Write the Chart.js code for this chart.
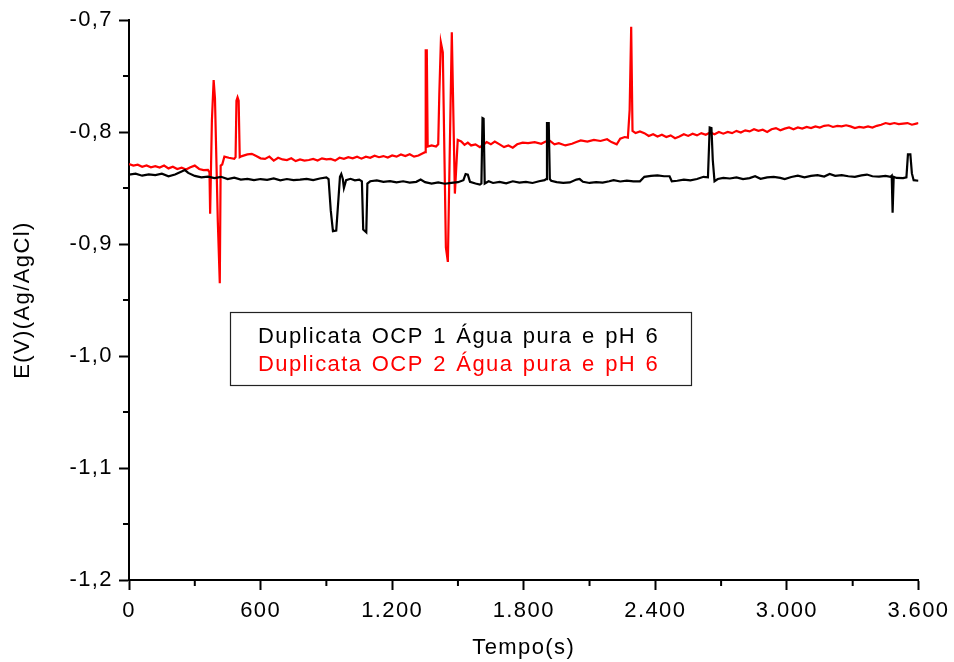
<!DOCTYPE html>
<html>
<head>
<meta charset="utf-8">
<script src="https://cdn.jsdelivr.net/npm/chart.js@4/dist/chart.umd.min.js"></script>
<style>
  html, body { margin: 0; padding: 0; background: #fff; }
  #wrap { width: 954px; height: 662px; }
</style>
</head>
<body>
<div id="wrap"><canvas id="chart"></canvas></div>
<script>
// OCP duplicatas – potencial vs tempo
const seriesNames = ["Duplicata OCP 1 Água pura e pH 6", "Duplicata OCP 2 Água pura e pH 6"];

const timeOcp1 = [
  0, 30, 60, 90, 120, 150, 180, 210, 240, 255, 270, 300, 330, 360, 390, 420, 450, 480, 510, 540,
  570, 600, 630, 660, 690, 720, 750, 780, 810, 840, 870, 900, 910, 920, 930, 945, 955, 962, 968, 975,
  980, 990, 1010, 1030, 1050, 1062, 1068, 1082, 1087, 1100, 1130, 1160, 1190, 1220, 1250, 1280, 1310, 1330, 1350, 1380,
  1410, 1440, 1470, 1500, 1525, 1535, 1545, 1555, 1580, 1600, 1607, 1612, 1617, 1622, 1640, 1660, 1690, 1720, 1750, 1780,
  1810, 1840, 1870, 1895, 1902, 1906, 1914, 1919, 1925, 1950, 1980, 2010, 2040, 2055, 2070, 2100, 2130, 2160, 2190, 2210,
  2240, 2270, 2300, 2330, 2350, 2380, 2410, 2440, 2465, 2475, 2500, 2530, 2560, 2590, 2620, 2640, 2648, 2656, 2662, 2670,
  2685, 2710, 2740, 2770, 2800, 2830, 2855, 2880, 2910, 2940, 2970, 2990, 3020, 3050, 3080, 3110, 3140, 3170, 3195, 3220,
  3250, 3280, 3310, 3340, 3365, 3390, 3420, 3450, 3472, 3478, 3482, 3487, 3500, 3530, 3545, 3552, 3563, 3570, 3578, 3600
];
const ocp1 = [
  -0.8380, -0.8372, -0.8390, -0.8378, -0.8385, -0.8372, -0.8395, -0.8380, -0.8352, -0.8340, -0.8365, -0.8392, -0.8405, -0.8398, -0.8412, -0.8400, -0.8420, -0.8408, -0.8425, -0.8418,
  -0.8430, -0.8420, -0.8428, -0.8415, -0.8432, -0.8420, -0.8430, -0.8425, -0.8418, -0.8430, -0.8415, -0.8405, -0.8420, -0.8700, -0.8885, -0.8880, -0.8600, -0.8400, -0.8375, -0.8420,
  -0.8500, -0.8430, -0.8418, -0.8432, -0.8425, -0.8440, -0.8870, -0.8895, -0.8460, -0.8440, -0.8432, -0.8445, -0.8438, -0.8450, -0.8440, -0.8452, -0.8445, -0.8425, -0.8448, -0.8460,
  -0.8450, -0.8462, -0.8455, -0.8448, -0.8430, -0.8375, -0.8380, -0.8445, -0.8460, -0.8470, -0.8460, -0.7875, -0.7880, -0.8460, -0.8440, -0.8455, -0.8445, -0.8458, -0.8440, -0.8452,
  -0.8445, -0.8455, -0.8440, -0.8430, -0.8420, -0.7920, -0.7920, -0.8420, -0.8435, -0.8448, -0.8455, -0.8450, -0.8425, -0.8420, -0.8445, -0.8455, -0.8448, -0.8452, -0.8440, -0.8430,
  -0.8442, -0.8435, -0.8440, -0.8440, -0.8400, -0.8392, -0.8388, -0.8395, -0.8395, -0.8440, -0.8435, -0.8425, -0.8432, -0.8420, -0.8400, -0.8405, -0.7960, -0.7965, -0.8250, -0.8440,
  -0.8420, -0.8410, -0.8415, -0.8405, -0.8420, -0.8412, -0.8395, -0.8418, -0.8405, -0.8400, -0.8410, -0.8420, -0.8402, -0.8390, -0.8405, -0.8392, -0.8385, -0.8398, -0.8375, -0.8392,
  -0.8385, -0.8395, -0.8400, -0.8388, -0.8380, -0.8395, -0.8398, -0.8392, -0.8400, -0.8390, -0.8720, -0.8400, -0.8410, -0.8412, -0.8405, -0.8200, -0.8200, -0.8370, -0.8430, -0.8435
];

const timeOcp2 = [
  0, 20, 40, 60, 80, 100, 120, 140, 160, 180, 200, 220, 240, 260, 280, 300, 320, 340, 360, 367,
  370, 378, 386, 392, 405, 414, 418, 425, 435, 455, 480, 486, 490, 495, 500, 505, 515, 540, 560, 580,
  600, 620, 640, 660, 680, 700, 720, 740, 760, 780, 800, 820, 840, 860, 880, 900, 920, 940, 960, 980,
  1000, 1020, 1040, 1060, 1080, 1100, 1120, 1140, 1160, 1180, 1200, 1220, 1240, 1260, 1280, 1300, 1320, 1340, 1350, 1353,
  1358, 1362, 1380, 1400, 1410, 1415, 1422, 1431, 1445, 1454, 1472, 1486, 1499, 1515, 1530, 1545, 1560, 1580, 1600, 1615,
  1631, 1650, 1668, 1690, 1710, 1730, 1750, 1770, 1795, 1820, 1850, 1880, 1900, 1920, 1940, 1960, 1990, 2020, 2040, 2060,
  2090, 2120, 2150, 2180, 2200, 2224, 2240, 2260, 2275, 2283, 2290, 2296, 2310, 2330, 2350, 2370, 2390, 2410, 2430, 2450,
  2470, 2490, 2510, 2530, 2550, 2570, 2590, 2610, 2630, 2650, 2670, 2690, 2710, 2730, 2750, 2770, 2790, 2810, 2830, 2850,
  2870, 2890, 2910, 2930, 2950, 2970, 2990, 3010, 3030, 3050, 3070, 3090, 3110, 3130, 3150, 3170, 3190, 3210, 3230, 3250,
  3270, 3290, 3310, 3330, 3350, 3370, 3390, 3410, 3430, 3450, 3470, 3490, 3510, 3530, 3550, 3570, 3590, 3600
];
const ocp2 = [
  -0.8286, -0.8300, -0.8292, -0.8310, -0.8298, -0.8315, -0.8305, -0.8318, -0.8300, -0.8325, -0.8310, -0.8330, -0.8318, -0.8335, -0.8315, -0.8300, -0.8330, -0.8340, -0.8338, -0.8360,
  -0.8730, -0.7900, -0.7536, -0.7700, -0.8800, -0.9350, -0.8300, -0.8290, -0.8220, -0.8230, -0.8240, -0.8225, -0.7720, -0.7690, -0.7720, -0.8225, -0.8215, -0.8200, -0.8195, -0.8215,
  -0.8235, -0.8240, -0.8220, -0.8255, -0.8230, -0.8245, -0.8250, -0.8235, -0.8260, -0.8245, -0.8255, -0.8250, -0.8240, -0.8255, -0.8235, -0.8245, -0.8240, -0.8255, -0.8230, -0.8240,
  -0.8225, -0.8235, -0.8220, -0.8238, -0.8220, -0.8230, -0.8212, -0.8225, -0.8215, -0.8228, -0.8210, -0.8220, -0.8200, -0.8215, -0.8198, -0.8220, -0.8210, -0.8190, -0.8180, -0.7270,
  -0.7270, -0.8130, -0.8120, -0.8130, -0.8110, -0.7660, -0.7200, -0.7290, -0.9030, -0.9160, -0.7110, -0.8550, -0.8070, -0.8085, -0.8115, -0.8095, -0.8120, -0.8110, -0.8135, -0.8115,
  -0.8090, -0.8110, -0.8085, -0.8110, -0.8135, -0.8120, -0.8140, -0.8110, -0.8095, -0.8100, -0.8090, -0.8105, -0.8085, -0.8080, -0.8110, -0.8100, -0.8120, -0.8105, -0.8090, -0.8075,
  -0.8085, -0.8070, -0.8080, -0.8065, -0.8090, -0.8110, -0.8060, -0.8045, -0.8050, -0.7800, -0.7060, -0.7990, -0.8010, -0.7995, -0.8010, -0.8035, -0.8020, -0.8040, -0.8025, -0.8045,
  -0.8030, -0.8055, -0.8040, -0.8020, -0.8035, -0.8015, -0.8030, -0.8010, -0.8025, -0.8005, -0.8020, -0.8000, -0.8015, -0.8000, -0.8010, -0.7990, -0.8005, -0.7985, -0.7995, -0.7975,
  -0.7990, -0.7980, -0.8000, -0.7975, -0.7965, -0.7985, -0.7970, -0.7960, -0.7975, -0.7960, -0.7970, -0.7955, -0.7965, -0.7950, -0.7960, -0.7945, -0.7940, -0.7955, -0.7945, -0.7950,
  -0.7940, -0.7950, -0.7965, -0.7955, -0.7960, -0.7950, -0.7960, -0.7945, -0.7935, -0.7920, -0.7930, -0.7920, -0.7930, -0.7925, -0.7920, -0.7935, -0.7925, -0.7920
];

const xMinorTicks = [300, 900, 1500, 2100, 2700, 3300];
const yMinorTicks = [-0.75, -0.85, -0.95, -1.05, -1.15];

const FONT = '"Liberation Sans", Arial, sans-serif';
const toPts = (ts, vs) => ts.map((t, i) => ({ x: t, y: vs[i] }));
const fmtX = (v) => String(v).replace(/\B(?=(\d{3})+(?!\d))/g, ".");
const fmtY = (v) => Number(v).toFixed(1).replace(".", ",");

// etwas Sperrung wie im Origin-Export
const spacing = {
  id: "spacing",
  beforeDraw(chart) {
    chart.ctx.letterSpacing = "1.4px";
    chart.ctx.wordSpacing = "2px";
  }
};

const minorTicks = {
  id: "minorTicks",
  afterDraw(chart) {
    const { ctx, scales: { x, y } } = chart;
    ctx.save();
    ctx.strokeStyle = "#000";
    ctx.lineWidth = 2;
    ctx.beginPath();
    xMinorTicks.forEach(t => {
      const px = x.getPixelForValue(t);
      ctx.moveTo(px, y.bottom); ctx.lineTo(px, y.bottom + 6);
    });
    yMinorTicks.forEach(v => {
      const py = y.getPixelForValue(v);
      ctx.moveTo(x.left, py); ctx.lineTo(x.left - 6, py);
    });
    ctx.stroke();
    ctx.restore();
  }
};

const legendBox = {
  id: "legendBox",
  afterDraw(chart) {
    const ctx = chart.ctx;
    ctx.save();
    ctx.strokeStyle = "#222";
    ctx.lineWidth = 1.2;
    ctx.strokeRect(230.5, 312.5, 461, 73);
    ctx.font = "22px " + FONT;
    ctx.textAlign = "left";
    ctx.textBaseline = "alphabetic";
    chart.data.datasets.forEach((ds, i) => {
      ctx.fillStyle = ds.borderColor;
      ctx.fillText(ds.label, 258, 343 + i * 28);
    });
    ctx.restore();
  }
};

new Chart(document.getElementById("chart"), {
  type: "line",
  data: {
    datasets: [
      { label: seriesNames[0], data: toPts(timeOcp1, ocp1), borderColor: "#000000", borderWidth: 2.2, pointRadius: 0, tension: 0, fill: false },
      { label: seriesNames[1], data: toPts(timeOcp2, ocp2), borderColor: "#ff0000", borderWidth: 2.2, pointRadius: 0, tension: 0, fill: false }
    ]
  },
  options: {
    responsive: true,
    maintainAspectRatio: false,
    animation: false,
    layout: { padding: { top: 20, right: 34, bottom: 0, left: 0 } },
    plugins: { legend: { display: false }, tooltip: { enabled: false } },
    scales: {
      x: {
        type: "linear",
        min: 0, max: 3600,
        afterFit: (s) => { s.height = 82; },
        border: { display: true, color: "#000", width: 2 },
        grid: { drawOnChartArea: false, color: "#000", tickLength: 10, tickWidth: 2 },
        ticks: { stepSize: 600, color: "#000", padding: 8, maxRotation: 0, font: { family: FONT, size: 22 }, callback: fmtX },
        title: { display: true, text: "Tempo(s)", color: "#000", font: { family: FONT, size: 22 }, padding: { top: 0, bottom: 1 } }
      },
      y: {
        min: -1.2, max: -0.7,
        afterFit: (s) => { s.width = 129; },
        border: { display: true, color: "#000", width: 2 },
        grid: { drawOnChartArea: false, color: "#000", tickLength: 10, tickWidth: 2 },
        ticks: { stepSize: 0.1, color: "#000", padding: 6, font: { family: FONT, size: 22 }, callback: fmtY },
        title: { display: true, text: "E(V)(Ag/AgCl)", color: "#000", font: { family: FONT, size: 22 }, padding: { top: 10, bottom: 0 } }
      }
    }
  },
  plugins: [spacing, minorTicks, legendBox]
});
</script>
</body>
</html>
